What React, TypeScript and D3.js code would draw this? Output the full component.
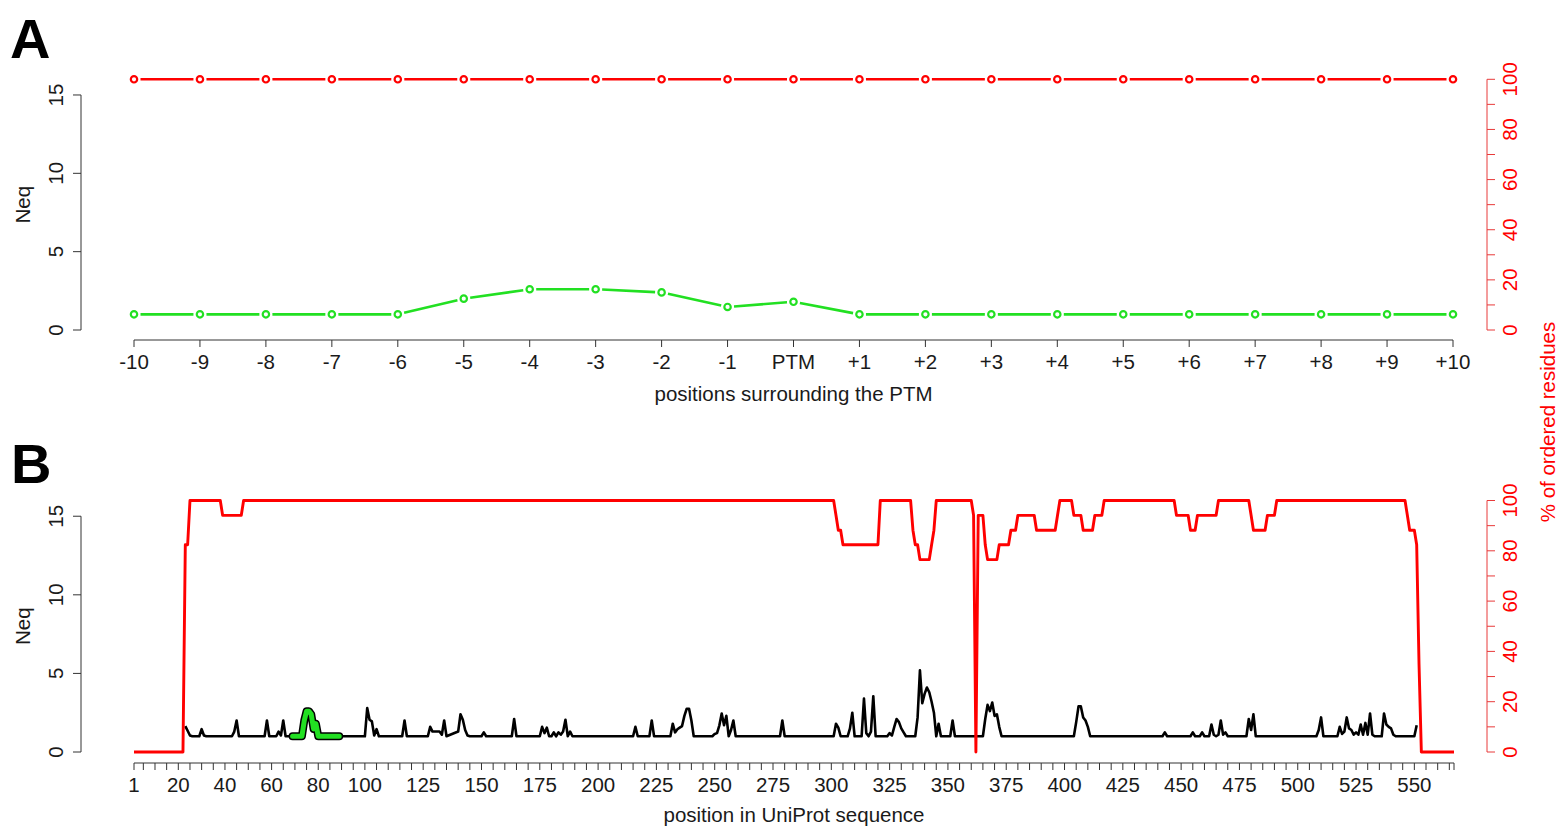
import React from "react";
import * as d3 from "d3";

const FONT = "'Liberation Sans', Arial, Helvetica, sans-serif";
const W = 1562;
const H = 833;
const FS = 20.5;

// ---------- Panel A data (window around the PTM) ----------
const ptmOffsets = [-10, -9, -8, -7, -6, -5, -4, -3, -2, -1, 0, 1, 2, 3, 4, 5, 6, 7, 8, 9, 10];
const ptmLabels = ["-10", "-9", "-8", "-7", "-6", "-5", "-4", "-3", "-2", "-1", "PTM", "+1", "+2", "+3", "+4", "+5", "+6", "+7", "+8", "+9", "+10"];
const neqWindow = [1, 1, 1, 1, 1, 2.0, 2.6, 2.6, 2.4, 1.47, 1.8, 1, 1, 1, 1, 1, 1, 1, 1, 1, 1];
const orderedWindow = [100, 100, 100, 100, 100, 100, 100, 100, 100, 100, 100, 100, 100, 100, 100, 100, 100, 100, 100, 100, 100];
const ptmResidue = 79;

// ---------- Panel B data (whole sequence), [residue, value] vertices ----------
const neqProfile: [number, number][] = [
  [23, 1.65], [24, 1.35], [25, 1.05], [26, 1], [29, 1], [30, 1.45], [31, 1.05], [32, 1],
  [43, 1], [44, 1.3], [45, 2.0], [46, 1],
  [57, 1], [58, 2.0], [59, 1],
  [62, 1], [63, 1.3], [64, 1.05], [65, 2.0], [66, 1],
  [69, 1], [73, 1], [74, 2.0], [75, 2.6], [76, 2.6], [77, 2.4], [78, 1.47], [79, 1.8], [80, 1], [89, 1],
  [100, 1], [101, 2.8], [102, 2.05], [103, 1.95], [104, 1.05], [105, 1.45], [106, 1],
  [116, 1], [117, 2.0], [118, 1],
  [127, 1], [128, 1.6], [129, 1.3], [132, 1.3], [133, 1.1], [134, 2.0], [135, 1],
  [140, 1.3], [141, 2.4], [142, 2.05], [143, 1.4], [144, 1.05], [145, 1],
  [150, 1], [151, 1.25], [152, 1],
  [163, 1], [164, 2.1], [165, 1],
  [175, 1], [176, 1.6], [177, 1.2], [178, 1.55], [179, 1], [180, 1], [181, 1.25], [182, 1], [183, 1.25], [184, 1.1], [185, 1.3], [186, 2.05], [187, 1], [188, 1.3], [189, 1],
  [215, 1], [216, 1.6], [217, 1],
  [222, 1], [223, 2.0], [224, 1],
  [231, 1], [232, 1.8], [233, 1.25], [234, 1.45], [235, 1.55], [236, 1.65], [237, 2.3], [238, 2.75], [239, 2.75], [240, 2.0], [241, 1],
  [249, 1], [250, 1.15], [251, 1.2], [252, 1.7], [253, 2.45], [254, 1.7], [255, 2.3], [256, 1.0], [257, 1.4], [258, 2.0], [259, 1],
  [278, 1], [279, 2.0], [280, 1],
  [301, 1], [302, 1.8], [303, 1.55], [304, 1],
  [307, 1], [308, 1.5], [309, 2.5], [310, 1],
  [313, 1], [314, 3.4], [315, 1.2], [316, 1], [317, 1.3], [318, 3.55], [319, 1],
  [324, 1], [325, 1.2], [326, 1.05], [327, 1.6], [328, 2.1], [329, 1.9], [330, 1.5], [331, 1.25], [332, 1],
  [336, 1], [337, 2.2], [338, 5.2], [339, 3.1], [340, 3.7], [341, 4.1], [342, 3.8], [343, 3.2], [344, 2.5], [345, 1], [346, 1.8], [347, 1],
  [351, 1], [352, 2.0], [353, 1],
  [365, 1], [366, 2.1], [367, 3.0], [368, 2.6], [369, 3.15], [370, 2.3], [371, 2.4], [372, 1.6], [373, 1],
  [404, 1], [405, 1.9], [406, 2.9], [407, 2.9], [408, 2.2], [409, 2.0], [410, 1.6], [411, 1],
  [442, 1], [443, 1.25], [444, 1],
  [454, 1], [455, 1.25], [456, 1], [458, 1], [459, 1.25], [460, 1], [462, 1], [463, 1.75], [464, 1.1], [465, 1], [466, 1.1], [467, 2.0], [468, 1.1], [469, 1.25], [470, 1],
  [478, 1], [479, 2.1], [480, 1.4], [481, 2.4], [482, 1],
  [508, 1], [509, 1.4], [510, 2.2], [511, 1],
  [517, 1], [518, 1.6], [519, 1.15], [520, 1.3], [521, 2.2], [522, 1.5], [523, 1.4], [524, 1.1], [525, 1.25], [526, 1.1], [527, 1.75], [528, 1.1], [529, 1.85], [530, 1.1], [531, 2.45], [532, 1.1], [533, 1],
  [536, 1], [537, 2.45], [538, 1.75], [539, 1.6], [540, 1.5], [541, 1.1], [542, 1],
  [550, 1], [551, 1.7],
];

const orderedProfile: [number, number][] = [
  [1, 0], [22, 0], [23, 82.4], [24, 82.4], [25, 100], [38, 100], [39, 94.1], [47, 94.1], [48, 100],
  [301, 100], [302, 94.1], [303, 88.2], [304, 88.2], [305, 82.4], [320, 82.4], [321, 100],
  [334, 100], [335, 88.2], [336, 82.4], [337, 82.4], [338, 76.5], [342, 76.5], [343, 82.4], [344, 88.2], [345, 100],
  [360, 100], [361, 94.1], [362, 0], [363, 94.1], [365, 94.1], [366, 82.4], [367, 76.5], [371, 76.5], [372, 82.4], [376, 82.4],
  [377, 88.2], [379, 88.2], [380, 94.1], [387, 94.1], [388, 88.2], [396, 88.2], [397, 94.1], [398, 100], [403, 100],
  [404, 94.1], [407, 94.1], [408, 88.2], [412, 88.2], [413, 94.1], [416, 94.1], [417, 100],
  [447, 100], [448, 94.1], [453, 94.1], [454, 88.2], [456, 88.2], [457, 94.1], [465, 94.1], [466, 100],
  [479, 100], [480, 94.1], [481, 88.2], [486, 88.2], [487, 94.1], [490, 94.1], [491, 100],
  [546, 100], [547, 94.1], [548, 88.2], [550, 88.2], [551, 82.4], [552, 35], [553, 0], [567, 0],
];

const seqLength = 567;
const seqTickLabels = [1, 20, 40, 60, 80, 100, 125, 150, 175, 200, 225, 250, 275, 300, 325, 350, 375, 400, 425, 450, 475, 500, 525, 550];
const neqTicks = [0, 5, 10, 15];
const pctTicks = [0, 10, 20, 30, 40, 50, 60, 70, 80, 90, 100];
const pctTickLabels = [0, 20, 40, 60, 80, 100];

const RED = "#ff0000";
const GREEN = "#22e022";
const AXIS = "#333333";
const RAXIS = "#e83a3a";
const TXT = "#1a1a1a";

function LeftAxis({ y, x }: { y: d3.ScaleLinear<number, number>; x: number }) {
  return (
    <g>
      <line x1={x} x2={x} y1={y(0)} y2={y(15)} stroke={AXIS} strokeWidth={1} />
      {neqTicks.map((t) => (
        <g key={t}>
          <line x1={x - 8} x2={x} y1={y(t)} y2={y(t)} stroke={AXIS} strokeWidth={1} />
          <text
            transform={`translate(${x - 18},${y(t)}) rotate(-90)`}
            textAnchor="middle"
            fontSize={FS}
            fontFamily={FONT}
            fill={TXT}
          >
            {t}
          </text>
        </g>
      ))}
      <text
        transform={`translate(30,${y(8)}) rotate(-90)`}
        textAnchor="middle"
        fontSize={FS}
        fontFamily={FONT}
        fill={TXT}
      >
        Neq
      </text>
    </g>
  );
}

function RightAxis({ p, x }: { p: d3.ScaleLinear<number, number>; x: number }) {
  return (
    <g>
      <line x1={x} x2={x} y1={p(0)} y2={p(100)} stroke={RAXIS} strokeWidth={1} />
      {pctTicks.map((t) => (
        <line key={t} x1={x} x2={x + 8} y1={p(t)} y2={p(t)} stroke={RAXIS} strokeWidth={1} />
      ))}
      {pctTickLabels.map((t) => (
        <text
          key={t}
          transform={`translate(${x + 30},${p(t)}) rotate(-90)`}
          textAnchor="middle"
          fontSize={FS}
          fontFamily={FONT}
          fill={RED}
        >
          {t}
        </text>
      ))}
    </g>
  );
}

function gappedSegments(pts: [number, number][], gap: number) {
  const segs: string[] = [];
  for (let i = 0; i < pts.length - 1; i++) {
    const [x1, y1] = pts[i];
    const [x2, y2] = pts[i + 1];
    const len = Math.hypot(x2 - x1, y2 - y1);
    if (len <= 2 * gap) continue;
    const ux = (x2 - x1) / len;
    const uy = (y2 - y1) / len;
    segs.push(`M${x1 + ux * gap},${y1 + uy * gap}L${x2 - ux * gap},${y2 - uy * gap}`);
  }
  return segs.join("");
}

export default function App() {
  // Panel A scales
  const xA = d3.scaleLinear().domain([-10, 10]).range([134, 1453]);
  const yA = d3.scaleLinear().domain([0, 16]).range([330, 79.3]);
  const pA = d3.scaleLinear().domain([0, 100]).range([330, 79.3]);

  // Panel B scales
  const xB = d3.scaleLinear().domain([1, seqLength]).range([134, 1454]);
  const yB = d3.scaleLinear().domain([0, 16]).range([752, 500.5]);
  const pB = d3.scaleLinear().domain([0, 100]).range([752, 500.5]);

  const greenPts: [number, number][] = ptmOffsets.map((o, i) => [xA(o), yA(neqWindow[i])]);
  const redPts: [number, number][] = ptmOffsets.map((o, i) => [xA(o), pA(orderedWindow[i])]);

  const lineB = d3.line<[number, number]>().x((d) => xB(d[0])).y((d) => yB(d[1]));
  const lineP = d3.line<[number, number]>().x((d) => xB(d[0])).y((d) => pB(d[1]));
  const greenB: [number, number][] = ptmOffsets.map((o, i) => [ptmResidue + o, neqWindow[i]]);

  const minorTicks = d3.range(5, seqLength, 5).concat([1, seqLength]);

  return (
    <div style={{ position: "absolute", left: 0, top: 0 }}>
      <svg width={W} height={H} style={{ display: "block", background: "#fff" }}>
        <rect x={0} y={0} width={W} height={H} fill="#fff" />

        {/* ---------------- Panel A ---------------- */}
        <text x={10} y={58} fontSize={56} fontWeight="bold" fontFamily={FONT} fill="#000">A</text>
        <LeftAxis y={yA} x={81} />
        <RightAxis p={pA} x={1487} />
        <line x1={xA(-10)} x2={xA(10)} y1={340} y2={340} stroke={AXIS} strokeWidth={1} />
        {ptmOffsets.map((o, i) => (
          <g key={o}>
            <line x1={xA(o)} x2={xA(o)} y1={340} y2={347} stroke={AXIS} strokeWidth={1} />
            <text x={xA(o)} y={369} textAnchor="middle" fontSize={FS} fontFamily={FONT} fill={TXT}>
              {ptmLabels[i]}
            </text>
          </g>
        ))}
        <text x={(xA(-10) + xA(10)) / 2} y={401} textAnchor="middle" fontSize={FS} fontFamily={FONT} fill={TXT}>
          positions surrounding the PTM
        </text>

        <path d={gappedSegments(redPts, 6.5)} stroke={RED} strokeWidth={2.6} fill="none" />
        {redPts.map((p, i) => (
          <circle key={i} cx={p[0]} cy={p[1]} r={3.2} fill="#fff" stroke={RED} strokeWidth={2.2} />
        ))}
        <path d={gappedSegments(greenPts, 6.5)} stroke={GREEN} strokeWidth={2.6} fill="none" />
        {greenPts.map((p, i) => (
          <circle key={i} cx={p[0]} cy={p[1]} r={3.2} fill="#fff" stroke={GREEN} strokeWidth={2.2} />
        ))}

        {/* shared right axis title */}
        <text
          transform={`translate(1555,422) rotate(-90)`}
          textAnchor="middle"
          fontSize={FS}
          fontFamily={FONT}
          fill={RED}
        >
          % of ordered residues
        </text>

        {/* ---------------- Panel B ---------------- */}
        <text x={11} y={483} fontSize={56} fontWeight="bold" fontFamily={FONT} fill="#000">B</text>
        <LeftAxis y={yB} x={81} />
        <RightAxis p={pB} x={1487} />
        <line x1={xB(1)} x2={xB(seqLength)} y1={763} y2={763} stroke={AXIS} strokeWidth={1} />
        {minorTicks.map((t) => (
          <line key={t} x1={xB(t)} x2={xB(t)} y1={763} y2={770} stroke={AXIS} strokeWidth={1} />
        ))}
        {seqTickLabels.map((t) => (
          <text key={t} x={xB(t)} y={792} textAnchor="middle" fontSize={FS} fontFamily={FONT} fill={TXT}>
            {t}
          </text>
        ))}
        <text x={794} y={822} textAnchor="middle" fontSize={FS} fontFamily={FONT} fill={TXT}>
          position in UniProt sequence
        </text>

        <path d={lineB(neqProfile) || ""} stroke="#000" strokeWidth={2.6} fill="none" strokeLinejoin="round" />
        <path d={lineB(greenB) || ""} stroke="#000" strokeWidth={8} fill="none" strokeLinejoin="round" strokeLinecap="round" />
        <path d={lineB(greenB) || ""} stroke={GREEN} strokeWidth={5} fill="none" strokeLinejoin="round" strokeLinecap="round" />
        <path d={lineP(orderedProfile) || ""} stroke={RED} strokeWidth={2.9} fill="none" strokeLinejoin="round" />
      </svg>
    </div>
  );
}
